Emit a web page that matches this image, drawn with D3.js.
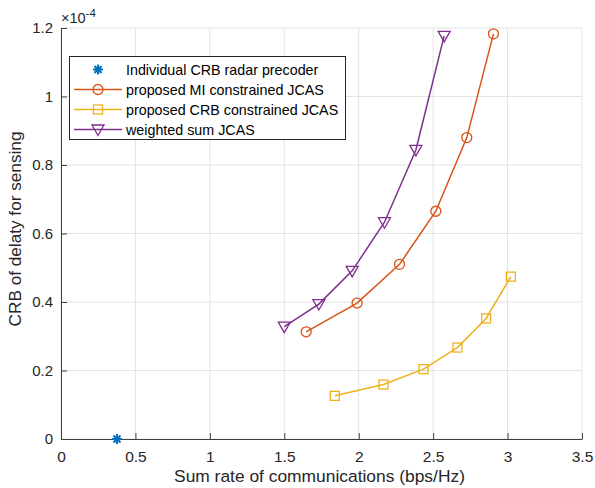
<!DOCTYPE html>
<meta charset="utf-8">
<html>
<head>
<script src="https://d3js.org/d3.v7.min.js"></script>
<style>
  body { margin: 0; background: #fff; }
  text { font-family: "Liberation Sans", Arial, sans-serif; }
</style>
</head>
<body>
<div id="chart"></div>
<script>
// data (y in units of 1e-4)
var radarRate = [0.376];
var radarCrb = [0];

var miRate = [1.647, 1.989, 2.274, 2.518, 2.726, 2.905];
var miCrb = [0.313, 0.397, 0.510, 0.665, 0.880, 1.183];

var crbRate = [1.839, 2.166, 2.435, 2.663, 2.856, 3.022];
var crbCrb = [0.126, 0.159, 0.204, 0.267, 0.352, 0.474];

var wsRate = [1.500, 1.732, 1.956, 2.173, 2.384, 2.574];
var wsCrb = [0.328, 0.394, 0.491, 0.633, 0.844, 1.177];

var xTicks = [0, 0.5, 1, 1.5, 2, 2.5, 3, 3.5];
var yTicks = [0, 0.2, 0.4, 0.6, 0.8, 1, 1.2];

var seriesNames = ["Individual CRB radar precoder", "proposed MI constrained JCAS",
                   "proposed CRB constrained JCAS", "weighted sum JCAS"];
var seriesColors = ["#0072BD", "#D95319", "#EDB120", "#7E2F8E"];
var seriesMarkers = ["star", "circle", "square", "tri"];

var width = 595, height = 488;
var margin = {left: 61, right: 13, top: 28, bottom: 49};

var svg = d3.select("#chart").append("svg")
    .attr("width", width)
    .attr("height", height);

var x = d3.scaleLinear().domain([0, 3.5]).range([margin.left, width - margin.right]);
var y = d3.scaleLinear().domain([0, 1.2]).range([height - margin.bottom, margin.top]);

// grid
svg.append("g").selectAll("line").data(xTicks).join("line")
    .attr("x1", d => x(d)).attr("x2", d => x(d))
    .attr("y1", y(0)).attr("y2", y(1.2))
    .attr("stroke", "#e3e3e3").attr("stroke-width", 1);
svg.append("g").selectAll("line").data(yTicks).join("line")
    .attr("x1", x(0)).attr("x2", x(3.5))
    .attr("y1", d => y(d)).attr("y2", d => y(d))
    .attr("stroke", "#e3e3e3").attr("stroke-width", 1);

// axes
var xAxis = d3.axisBottom(x).tickValues(xTicks).tickSizeInner(-6).tickSizeOuter(0)
    .tickPadding(12).tickFormat(d3.format(""));
var yAxis = d3.axisLeft(y).tickValues(yTicks).tickSizeInner(-6).tickSizeOuter(0)
    .tickPadding(8).tickFormat(d3.format(""));

svg.append("g")
    .attr("transform", `translate(0,${y(0)})`)
    .call(xAxis)
    .call(g => g.select(".domain").attr("stroke", "#404040"))
    .call(g => g.selectAll(".tick line").attr("stroke", "#404040"))
    .call(g => g.selectAll(".tick text").attr("font-size", 15.5).attr("fill", "#262626")
        .attr("font-family", "Liberation Sans, Arial, sans-serif"));

svg.append("g")
    .attr("transform", `translate(${x(0)},0)`)
    .call(yAxis)
    .call(g => g.select(".domain").attr("stroke", "#404040"))
    .call(g => g.selectAll(".tick line").attr("stroke", "#404040"))
    .call(g => g.selectAll(".tick text").attr("font-size", 15).attr("fill", "#262626")
        .attr("font-family", "Liberation Sans, Arial, sans-serif"));

// exponent label
var expo = svg.append("text").attr("x", x(0)).attr("y", 23)
    .attr("font-size", 14.5).attr("fill", "#262626");
expo.append("tspan").text("×10");
expo.append("tspan").attr("dy", -6).attr("font-size", 11.5).text("-4");

// axis labels
svg.append("text")
    .attr("x", (x(0) + x(3.5)) / 2 - 2).attr("y", 482)
    .attr("text-anchor", "middle").attr("font-size", 17.4).attr("fill", "#262626")
    .text("Sum rate of communications (bps/Hz)");
svg.append("text")
    .attr("transform", `translate(21,229) rotate(-90)`)
    .attr("text-anchor", "middle").attr("font-size", 17.2).attr("fill", "#262626")
    .text("CRB of delaty for sensing");

function marker(g, type, color) {
  if (type === "circle") {
    g.append("circle").attr("r", 5).attr("fill", "none").attr("stroke", color).attr("stroke-width", 1.3);
  } else if (type === "square") {
    g.append("rect").attr("x", -4.5).attr("y", -4.5).attr("width", 9).attr("height", 9)
      .attr("fill", "none").attr("stroke", color).attr("stroke-width", 1.3);
  } else if (type === "tri") {
    g.append("path").attr("d", "M-6,-4.5L6,-4.5L0,6Z")
      .attr("fill", "none").attr("stroke", color).attr("stroke-width", 1.3);
  } else {
    var r = 5, s = r * Math.SQRT1_2;
    g.append("path")
      .attr("d", `M${-r},0L${r},0M0,${-r}L0,${r}M${-s},${-s}L${s},${s}M${-s},${s}L${s},${-s}`)
      .attr("stroke", color).attr("stroke-width", 2);
  }
}

var series = [
  {xs: radarRate, ys: radarCrb, line: false},
  {xs: miRate, ys: miCrb, line: true},
  {xs: crbRate, ys: crbCrb, line: true},
  {xs: wsRate, ys: wsCrb, line: true}
];

var line = d3.line().x(d => x(d[0])).y(d => y(d[1]));

series.forEach(function(s, i) {
  var pts = s.xs.map((v, j) => [v, s.ys[j]]);
  if (s.line) {
    svg.append("path").datum(pts).attr("d", line)
      .attr("fill", "none").attr("stroke", seriesColors[i]).attr("stroke-width", 1.5);
  }
  pts.forEach(function(p) {
    var g = svg.append("g").attr("transform", `translate(${x(p[0])},${y(p[1])})`);
    marker(g, seriesMarkers[i], seriesColors[i]);
  });
});

// legend
var leg = svg.append("g");
leg.append("rect").attr("x", 69.5).attr("y", 56.5).attr("width", 276).attr("height", 83)
  .attr("fill", "#fff").attr("stroke", "#262626").attr("stroke-width", 1);
seriesNames.forEach(function(name, i) {
  var yy = 69.5 + i * 20;
  if (series[i].line) {
    leg.append("line").attr("x1", 74).attr("x2", 122).attr("y1", yy).attr("y2", yy)
      .attr("stroke", seriesColors[i]).attr("stroke-width", 1.5);
  }
  var g = leg.append("g").attr("transform", `translate(98,${yy})`);
  marker(g, seriesMarkers[i], seriesColors[i]);
  leg.append("text").attr("x", 126).attr("y", yy + 5)
    .attr("font-size", 14.3).attr("fill", "#000").text(name);
});
</script>
</body>
</html>
